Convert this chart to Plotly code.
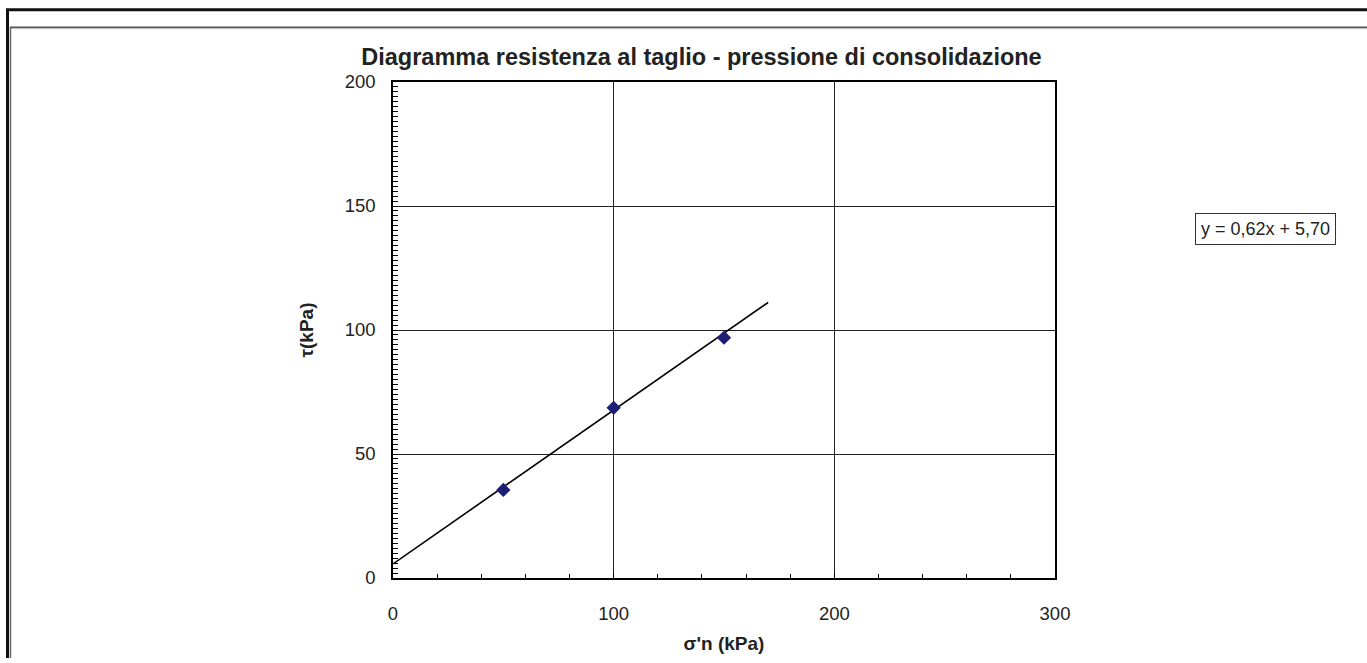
import plotly.graph_objects as go

# ---- data ----
sigma_n = [50, 100, 150]            # σ'n (kPa)
tau = [35.5, 68.6, 96.9]            # τ (kPa)
trend_x = [0, 170]
trend_y = [5.70, 111.1]
x_ticks = [0, 100, 200, 300]
y_ticks = [0, 50, 100, 150, 200]
title_text = "Diagramma resistenza al taglio - pressione di consolidazione"
x_title = "σ'n (kPa)"
y_title = "τ(kPa)"
eq_text = "y = 0,62x + 5,70"

# ---- layout geometry (pixels) ----
W, H = 1367, 663
L, R, T, B = 393, 1055, 82, 584
PW, PH = R - L, B - T

def px(x):
    return (x - L) / PW

def py(y):
    return (B - y) / PH

FONT = "Liberation Sans, Arial, Helvetica, sans-serif"

fig = go.Figure()
fig.add_trace(go.Scatter(
    x=trend_x, y=trend_y, mode="lines",
    line=dict(color="black", width=1.6), showlegend=False, hoverinfo="skip"))
fig.add_trace(go.Scatter(
    x=sigma_n, y=tau, mode="markers",
    marker=dict(symbol="diamond", size=11, color="#1F1F75"),
    showlegend=False))

axis_common = dict(
    showline=True, mirror=True, linecolor="black", linewidth=1.5,
    showgrid=True, gridcolor="#222222", gridwidth=1,
    zeroline=False, ticks="inside", ticklen=5, tickcolor="black",
    tickfont=dict(family=FONT, size=18.5, color="#222"),
)

fig.update_layout(
    width=W, height=H,
    margin=dict(l=L, r=W - R, t=T, b=H - B),
    paper_bgcolor="white", plot_bgcolor="white",
    font=dict(family=FONT, color="#222"),
    title=dict(text="<b>" + title_text + "</b>",
               x=701.5 / W, xanchor="center",
               y=1 - 57 / H, yanchor="middle",
               font=dict(family=FONT, size=23.5, color="#222")),
    xaxis=dict(range=[0, 300], tickvals=x_ticks, ticklabelstandoff=18,
               minor=dict(dtick=20, ticks="inside", ticklen=4, tickcolor="black", showgrid=False),
               title=dict(text="<b>" + x_title + "</b>", standoff=14,
                          font=dict(family=FONT, size=19, color="#222")),
               **axis_common),
    yaxis=dict(range=[0, 200], tickvals=y_ticks, ticklabelstandoff=12,
               minor=dict(dtick=2, ticks="inside", ticklen=5, tickcolor="black", showgrid=False),
               title=dict(text="<b>" + y_title + "</b>", standoff=26,
                          font=dict(family=FONT, size=19, color="#222")),
               **axis_common),
    showlegend=False,
)

# equation box
fig.add_annotation(
    x=px(1265), y=py(231), xref="paper", yref="paper",
    text=eq_text, showarrow=False,
    font=dict(family=FONT, size=18, color="#222"),
    bordercolor="#333", borderwidth=1, borderpad=5, bgcolor="white",
    xanchor="center", yanchor="middle")

# outer frames
shapes = [
    dict(type="line", xref="paper", yref="paper",
         x0=px(6), x1=px(W + 2), y0=py(9), y1=py(9),
         line=dict(color="#111", width=3)),
    dict(type="line", xref="paper", yref="paper",
         x0=px(7.5), x1=px(7.5), y0=py(8), y1=py(H + 2),
         line=dict(color="#111", width=3)),
    dict(type="line", xref="paper", yref="paper",
         x0=px(10), x1=px(W + 2), y0=py(26.5), y1=py(26.5),
         line=dict(color="#555", width=1.5)),
    dict(type="line", xref="paper", yref="paper",
         x0=px(10), x1=px(W + 2), y0=py(28), y1=py(28),
         line=dict(color="#bbb", width=1)),
    dict(type="line", xref="paper", yref="paper",
         x0=px(10.5), x1=px(10.5), y0=py(26), y1=py(H + 2),
         line=dict(color="#666", width=1.5)),
]
fig.update_layout(shapes=shapes)

fig.write_html("out.html")
